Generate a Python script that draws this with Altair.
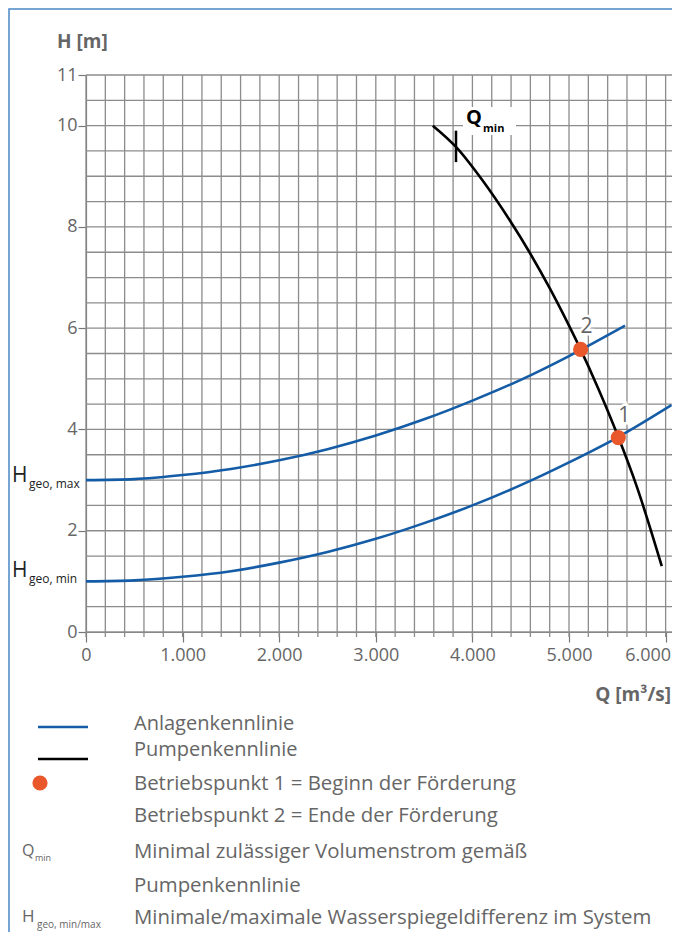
import altair as alt
import pandas as pd

# ---------------- data ----------------
# Anlagenkennlinie bei H_geo,max
q_sys_max = [0, 500, 1000, 1500, 2000, 2500, 3000, 3500, 4000, 4500, 5000, 5580]
h_sys_max = [3.0, 3.02, 3.1, 3.22, 3.39, 3.61, 3.88, 4.2, 4.57, 4.98, 5.45, 6.05]
# Anlagenkennlinie bei H_geo,min
q_sys_min = [0, 500, 1000, 1500, 2000, 2500, 3000, 3500, 4000, 4500, 5000, 5500, 6060]
h_sys_min = [1.0, 1.02, 1.09, 1.2, 1.37, 1.58, 1.84, 2.15, 2.5, 2.9, 3.35, 3.84, 4.48]
# Pumpenkennlinie
q_pump = [3590, 3830, 4100, 4380, 4600, 4800, 5000, 5100, 5300, 5500, 5700, 5960]
h_pump = [10.0, 9.58, 8.93, 8.15, 7.47, 6.79, 6.05, 5.66, 4.82, 3.9, 2.88, 1.3]
# Betriebspunkte
op_q = [5510, 5120]
op_h = [3.84, 5.58]
op_label = ["1", "2"]
# Q_min marker
qmin_q = [3830]
qmin_h1 = [9.28]
qmin_h2 = [9.9]
# axes
x_ticks = [0, 1000, 2000, 3000, 4000, 5000, 6000]
y_ticks = [0, 2, 4, 6, 8, 10, 11]
x_grid = list(range(0, 6001, 200))
y_grid = [i * 0.5 for i in range(0, 23)]

W, H = 586, 557
BLUE = "#145ca6"
ORANGE = "#e8582a"
GRID = "#8c8c8c"
TXT = "#666666"
FONT = "Open Sans"

xs = alt.Scale(domain=[0, 6066], nice=False, zero=False)
ys = alt.Scale(domain=[0, 11], nice=False, zero=False)

xaxis = alt.Axis(values=x_ticks, grid=False, tickSize=10, tickColor="#777", tickWidth=1.2,
                 domainColor="#777", domainWidth=1.2, labelFontSize=18, labelColor=TXT,
                 labelFont=FONT, labelPadding=4, labelFlush=False,
                 labelAlign={"condition": {"test": "datum.value == 6000", "value": "right"},
                             "value": "center"},
                 labelOffset={"condition": {"test": "datum.value == 6000", "value": 5},
                              "value": 0},
                 labelExpr="replace(format(datum.value, ','), ',', '.')")
yaxis = alt.Axis(values=y_ticks, grid=False, tickSize=8, tickColor="#777", tickWidth=1.2,
                 domainColor="#777", domainWidth=1.2, labelFontSize=18, labelColor=TXT,
                 labelFont=FONT, labelPadding=1)


def X(f="Q:Q"):
    return alt.X(f, scale=xs, axis=xaxis, title=None)


def Y(f="H:Q"):
    return alt.Y(f, scale=ys, axis=yaxis, title=None)


sys_df = pd.DataFrame(
    {"Q": q_sys_max + q_sys_min,
     "H": h_sys_max + h_sys_min,
     "k": ["max"] * len(q_sys_max) + ["min"] * len(q_sys_min)}
)
pump_df = pd.DataFrame({"Q": q_pump, "H": h_pump})
op_df = pd.DataFrame({"Q": op_q, "H": op_h, "label": op_label})
qmin_df = pd.DataFrame({"Q": qmin_q, "H1": qmin_h1, "H2": qmin_h2})
xg_df = pd.DataFrame({"Q": x_grid})
yg_df = pd.DataFrame({"H": y_grid})

dummy = alt.Data(values=[{}])

xgrid = alt.Chart(xg_df).mark_rule(color=GRID, strokeWidth=1.3).encode(
    x=X(), y=alt.value(0), y2=alt.value(H + 5),
)
ygrid = alt.Chart(yg_df).mark_rule(color=GRID, strokeWidth=1.3).encode(
    y=Y(), x=alt.value(0), x2=alt.value(W),
)

sys_lines = alt.Chart(sys_df).mark_line(color=BLUE, strokeWidth=2.6, interpolate="monotone").encode(
    x=X(), y=Y(), detail="k:N"
)
pump_line = alt.Chart(pump_df).mark_line(color="black", strokeWidth=2.6, interpolate="monotone").encode(
    x=X(), y=Y()
)
qmin_tick = alt.Chart(qmin_df).mark_rule(color="black", strokeWidth=2.5).encode(
    x=X(), y=Y("H1:Q"), y2="H2:Q"
)
points = alt.Chart(op_df).mark_circle(color=ORANGE, size=230, opacity=1).encode(
    x=X(), y=Y()
)
pt_halo = alt.Chart(op_df).mark_text(fontSize=21, font=FONT, color=TXT, stroke="white",
                                     strokeWidth=5, dx=6, dy=-22).encode(
    x=X(), y=Y(), text="label:N"
)
pt_text = alt.Chart(op_df).mark_text(fontSize=21, font=FONT, color=TXT, dx=6, dy=-22).encode(
    x=X(), y=Y(), text="label:N"
)


def txt(s, x, y, size=20.4, color=TXT, weight="normal", align="left", baseline="middle"):
    return alt.Chart(dummy).mark_text(
        text=s, x=x, y=y, fontSize=size, color=color, fontWeight=weight,
        align=align, baseline=baseline, font=FONT,
    )


def hline(x1, x2, y, color, width=2.6):
    return alt.Chart(dummy).mark_rule(color=color, strokeWidth=width).encode(
        x=alt.value(x1), x2=alt.value(x2), y=alt.value(y)
    )


OX, OY = 86, 75  # page position of the plot origin


def px(v):
    return v - OX


def py(v):
    return v - OY


annots = []
# frame
annots.append(alt.Chart(dummy).mark_rect(fill=None, stroke="#4a86c5", strokeWidth=1.5).encode(
    x=alt.value(px(9)), x2=alt.value(700), y=alt.value(py(9)), y2=alt.value(1000)))
# axis titles
annots.append(txt("H [m]", px(57), py(42), size=19, weight="bold"))
annots.append(txt("Q [m³/s]", px(671), py(695), size=19, weight="bold", align="right"))
# Q_min label
annots.append(alt.Chart(dummy).mark_rect(fill="white").encode(
    x=alt.value(px(463)), x2=alt.value(px(516)),
    y=alt.value(py(107)), y2=alt.value(py(135))))
annots.append(txt("Q", px(466), py(118), size=20, color="black", weight="bold"))
annots.append(txt("min", px(483), py(129), size=11, color="black", weight="bold"))
# H_geo labels
annots.append(txt("H", px(12), py(476), size=21, color="#222"))
annots.append(txt("geo, max", px(29), py(484), size=12, color="#222"))
annots.append(txt("H", px(12), py(571), size=21, color="#222"))
annots.append(txt("geo, min", px(29), py(579), size=12, color="#222"))
# legend
annots.append(hline(px(38), px(88), py(727), BLUE))
annots.append(txt("Anlagenkennlinie", px(134), py(724), size=20))
annots.append(hline(px(38), px(88), py(759), "black"))
annots.append(txt("Pumpenkennlinie", px(134), py(749.5), size=20))
annots.append(alt.Chart(dummy).mark_circle(color=ORANGE, size=230, opacity=1).encode(
    x=alt.value(px(40)), y=alt.value(py(783))))
annots.append(txt("Betriebspunkt 1 = Beginn der Förderung", px(134), py(784)))
annots.append(txt("Betriebspunkt 2 = Ende der Förderung", px(134), py(816)))
annots.append(txt("Q", px(22), py(851), size=16))
annots.append(txt("min", px(35), py(858), size=9))
annots.append(txt("Minimal zulässiger Volumenstrom gemäß", px(134), py(852)))
annots.append(txt("Pumpenkennlinie", px(134), py(886)))
annots.append(txt("H", px(22), py(917), size=17))
annots.append(txt("geo, min/max", px(37), py(925), size=10))
annots.append(txt("Minimale/maximale Wasserspiegeldifferenz im System", px(134), py(918)))

chart = alt.layer(
    xgrid, ygrid, sys_lines, pump_line, qmin_tick, points, pt_halo, pt_text, *annots
).properties(
    width=W, height=H,
    padding={"left": 78, "top": 67, "right": 0, "bottom": 300},
    autosize=alt.AutoSizeParams(type="none"),
    background="white",
).configure_view(stroke=None)

chart.save("out.html", embed_options={"renderer": "svg", "actions": False})
